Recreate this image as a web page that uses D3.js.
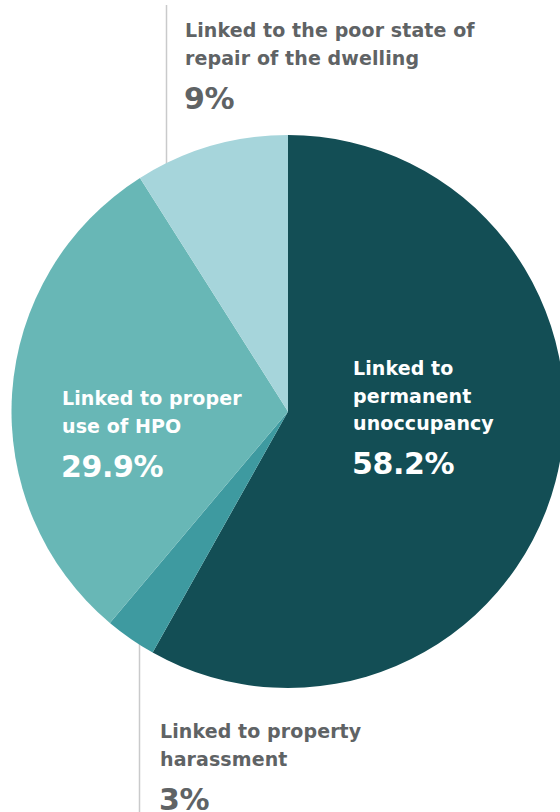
<!DOCTYPE html>
<html>
<head>
<meta charset="utf-8">
<script src="https://cdn.jsdelivr.net/npm/d3@7"></script>
<style>
  html, body { margin: 0; padding: 0; background: #ffffff; }
  svg { display: block; }
  text { font-family: "DejaVu Sans", sans-serif; }
</style>
</head>
<body>
<svg id="chart" width="560" height="812"></svg>
<script>
// Shares of cases by reason, clockwise from 12 o'clock
const categories = [
  "Linked to permanent unoccupancy",
  "Linked to property harassment",
  "Linked to proper use of HPO",
  "Linked to the poor state of repair of the dwelling"
];
const values = [58.2, 3, 29.9, 9];
const valueLabels = ["58.2%", "3%", "29.9%", "9%"];
const labelLines = [
  ["Linked to", "permanent", "unoccupancy"],
  ["Linked to property", "harassment"],
  ["Linked to proper", "use of HPO"],
  ["Linked to the poor state of", "repair of the dwelling"]
];
const colors = ["#134e55", "#3e9aa0", "#68b7b6", "#a6d5db"];

const svg = d3.select("#chart");
const cx = 288, cy = 411.5, r = 276.5;

const pie = d3.pie().sort(null).value(d => d)(values);
const arc = d3.arc().innerRadius(0).outerRadius(r);

// Leader lines for the outside labels (drawn under the pie)
const lineColor = "#c9cacb";
svg.append("line").attr("x1", 166.5).attr("x2", 166.5).attr("y1", 5).attr("y2", 170)
  .attr("stroke", lineColor).attr("stroke-width", 1.5);
svg.append("line").attr("x1", 139.5).attr("x2", 139.5).attr("y1", 640).attr("y2", 812)
  .attr("stroke", lineColor).attr("stroke-width", 1.5);

const g = svg.append("g").attr("transform", `translate(${cx},${cy})`);
g.selectAll("path").data(pie).join("path")
  .attr("d", arc)
  .attr("fill", (d, i) => colors[i]);

// Label placement: x, first baseline, colour
const labelPos = [
  { x: 353, y: 375, color: "#ffffff" },
  { x: 160, y: 738, color: "#5f6365" },
  { x: 62, y: 405, color: "#ffffff" },
  { x: 185, y: 37, color: "#5f6365" }
];
const lineH = 27.5;

labelLines.forEach((lines, i) => {
  const p = labelPos[i];
  const t = svg.append("g");
  lines.forEach((s, k) => {
    t.append("text")
      .attr("x", p.x).attr("y", p.y + k * lineH)
      .attr("fill", p.color)
      .attr("font-size", 19)
      .attr("font-weight", 700)
      .attr("letter-spacing", 0.1)
      .text(s);
  });
  t.append("text")
    .attr("x", p.x - 1).attr("y", p.y + (lines.length - 1) * lineH + 44)
    .attr("fill", p.color)
    .attr("font-size", 30)
    .attr("font-weight", 700)
    .attr("letter-spacing", -0.4)
    .text(valueLabels[i]);
});
</script>
</body>
</html>
